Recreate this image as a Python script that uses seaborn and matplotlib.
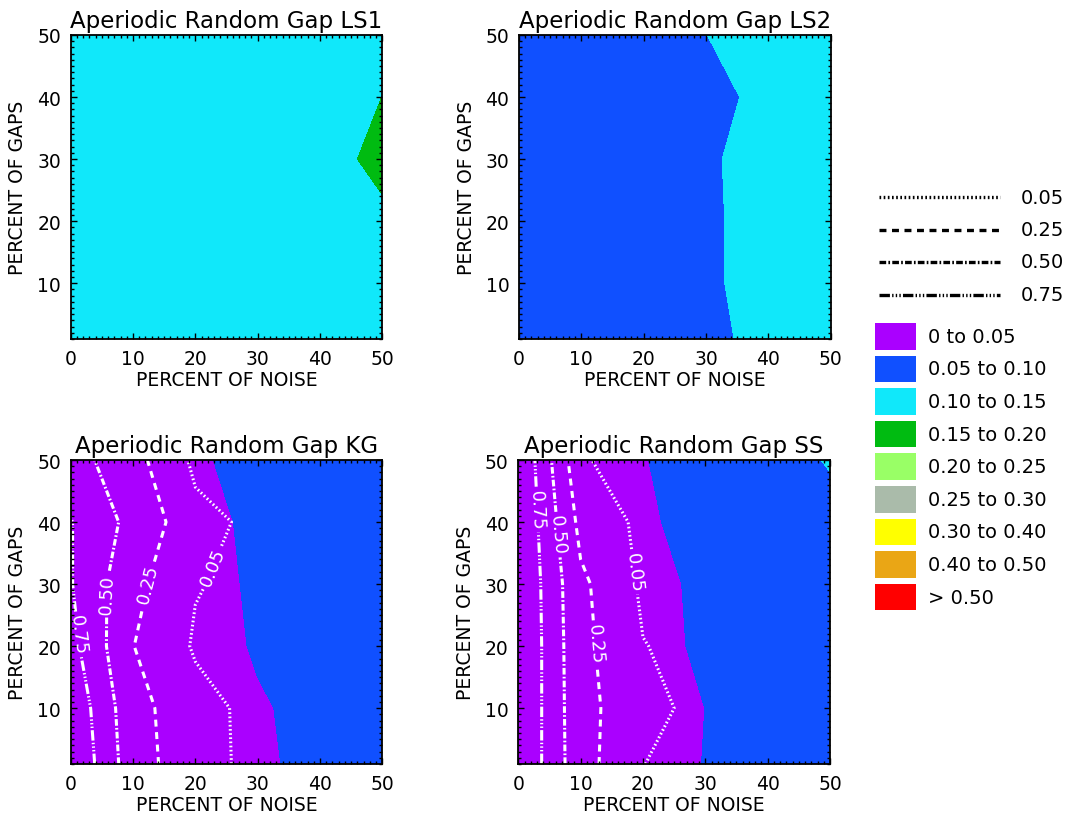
import numpy as np
import pandas as pd
import matplotlib
matplotlib.use("Agg")
import matplotlib.pyplot as plt
import seaborn as sns
from matplotlib.ticker import MultipleLocator, FixedLocator
from matplotlib.patches import Rectangle

# ---------------- data ----------------
noise = [0, 10, 20, 30, 40, 50]          # percent of noise (x)
gaps = [1, 10, 20, 30, 40, 50]           # percent of gaps (y)

fill_levels = [0, 0.05, 0.10, 0.15, 0.20, 0.25, 0.30, 0.40, 0.50, 100]
fill_labels = ["0 to 0.05", "0.05 to 0.10", "0.10 to 0.15", "0.15 to 0.20",
               "0.20 to 0.25", "0.25 to 0.30", "0.30 to 0.40", "0.40 to 0.50",
               "> 0.50"]
fill_colors = ["#AA00FF", "#1050FF", "#10E8FA", "#00BB11", "#99FF66",
               "#AABBAA", "#FFFF00", "#EAA615", "#FF0000"]
line_levels = [0.05, 0.25, 0.50, 0.75]
line_labels = ["0.05", "0.25", "0.50", "0.75"]

titles = ["Aperiodic Random Gap LS1", "Aperiodic Random Gap LS2",
          "Aperiodic Random Gap KG", "Aperiodic Random Gap SS"]

# filled field, rows = gaps, columns = noise
ls1_fill = [[0.118, 0.120, 0.122, 0.125, 0.128, 0.132],
            [0.118, 0.120, 0.123, 0.126, 0.129, 0.135],
            [0.119, 0.121, 0.124, 0.127, 0.130, 0.140],
            [0.119, 0.121, 0.124, 0.127, 0.130, 0.1633],
            [0.120, 0.122, 0.125, 0.128, 0.130, 0.1502],
            [0.120, 0.122, 0.125, 0.128, 0.131, 0.140]]
ls2_fill = [[0.060, 0.068, 0.078, 0.091, 0.111, 0.125],
            [0.060, 0.068, 0.079, 0.094, 0.114, 0.126],
            [0.061, 0.069, 0.079, 0.094, 0.114, 0.127],
            [0.061, 0.070, 0.080, 0.093, 0.120, 0.128],
            [0.060, 0.068, 0.076, 0.085, 0.1128, 0.128],
            [0.062, 0.072, 0.085, 0.0995, 0.125, 0.130]]
kg_fill = [[0.005, 0.012, 0.025, 0.045, 0.0585, 0.065],
           [0.005, 0.013, 0.027, 0.046, 0.0614, 0.068],
           [0.006, 0.014, 0.0305, 0.054, 0.065, 0.070],
           [0.006, 0.015, 0.0346, 0.056, 0.066, 0.072],
           [0.007, 0.016, 0.0375, 0.058, 0.068, 0.074],
           [0.008, 0.018, 0.0439, 0.065, 0.072, 0.078]]
ss_fill = [[0.005, 0.012, 0.028, 0.0514, 0.062, 0.068],
           [0.005, 0.013, 0.030, 0.0502, 0.063, 0.070],
           [0.006, 0.015, 0.0367, 0.056, 0.065, 0.072],
           [0.006, 0.016, 0.0369, 0.058, 0.067, 0.074],
           [0.007, 0.017, 0.0449, 0.062, 0.070, 0.083],
           [0.008, 0.019, 0.049, 0.060, 0.0757, 0.104]]

# line-contour field (only KG and SS show lines)
kg_line = [[1.00, 0.351, 0.105, 0.010, 0.0, 0.0],
           [0.95, 0.325, 0.111, 0.0, 0.0, 0.0],
           [0.83, 0.2545, 0.0298, 0.0, 0.0, 0.0],
           [0.764, 0.309, 0.060, 0.0, 0.0, 0.0],
           [0.76, 0.422, 0.0975, 0.0156, 0.0, 0.0],
           [0.612, 0.321, 0.013, 0.0, 0.0, 0.0]]
ss_line = [[1.00, 0.333, 0.052, 0.0, 0.0, 0.0],
           [1.007, 0.322, 0.100, 0.0, 0.0, 0.0],
           [1.014, 0.310, 0.055, 0.0, 0.0, 0.0],
           [1.007, 0.293, 0.020, 0.0, 0.0, 0.0],
           [1.01, 0.184, 0.008, 0.0, 0.0, 0.0],
           [1.00, 0.060, 0.005, 0.0, 0.0, 0.0]]

kg_label_pos = [(2.3, 22), (5.8, 28.5), (12.6, 30), (21.5, 33.3)]
ss_label_pos = [(3.1, 42), (6.7, 38), (12.9, 20.5), (18.7, 32)]

# ---------------- style ----------------
sns.set_theme(style="ticks")
plt.rcParams["font.family"] = ["DejaVu Sans"]
plt.rcParams["lines.scale_dashes"] = False
plt.rcParams["axes.edgecolor"] = "black"
plt.rcParams["axes.linewidth"] = 1.3
plt.rcParams["axes.axisbelow"] = False
plt.rcParams["xtick.color"] = "black"
plt.rcParams["ytick.color"] = "black"
plt.rcParams["xtick.labelcolor"] = "black"
plt.rcParams["ytick.labelcolor"] = "black"
plt.rcParams["text.color"] = "black"
plt.rcParams["axes.labelcolor"] = "black"
plt.rcParams["axes.titlecolor"] = "black"
palette = sns.color_palette(fill_colors)

line_styles = [(0, (1.2, 1.8)),
               (0, (5.0, 4.0)),
               (0, (4.8, 1.6, 1.2, 1.6)),
               (0, (7.5, 1.6, 1.0, 1.6, 1.0, 1.6, 1.0, 1.6))]

fig = plt.figure(figsize=(10.81, 8.2), dpi=100)

W, H = 1081.0, 820.0
boxes = [(70.7, 36, 382.3, 340), (519, 36, 830.7, 340),
         (70.7, 461, 382.3, 765), (518.3, 461, 830, 765)]
fills = [ls1_fill, ls2_fill, kg_fill, ss_fill]
lines = [None, None, kg_line, ss_line]
label_pos = [None, None, kg_label_pos, ss_label_pos]

X, Y = np.meshgrid(noise, gaps)
for i in range(4):
    l, t, r, b = boxes[i]
    ax = fig.add_axes([l / W, 1 - b / H, (r - l) / W, (b - t) / H])
    ax.set_axisbelow(False)
    ax.contourf(X, Y, np.array(fills[i]), levels=fill_levels, colors=palette,
                zorder=0.5)
    if lines[i] is not None:
        cs = ax.contour(X, Y, np.array(lines[i]), levels=line_levels,
                        colors="white", linewidths=2.2, linestyles=line_styles,
                        zorder=1)
        ax.clabel(cs, fmt="%.2f", inline=True, fontsize=13, colors="white",
                  manual=label_pos[i], inline_spacing=3)
    ax.set_xlim(0, 50)
    ax.set_ylim(1, 50)
    ax.xaxis.set_major_locator(FixedLocator([0, 10, 20, 30, 40, 50]))
    ax.yaxis.set_major_locator(FixedLocator([10, 20, 30, 40, 50]))
    ax.xaxis.set_minor_locator(MultipleLocator(1))
    ax.yaxis.set_minor_locator(MultipleLocator(1))
    ax.tick_params(which="both", direction="in", top=True, right=True,
                   labelsize=13.5, width=1.0, color="black")
    ax.tick_params(which="major", length=4.5, pad=7)
    ax.tick_params(which="minor", length=2.5)
    ax.set_title(titles[i], fontsize=16.5, pad=6)
    ax.set_xlabel("PERCENT OF NOISE", fontsize=13.5, labelpad=2)
    ax.set_ylabel("PERCENT OF GAPS", fontsize=13.5, labelpad=7)
    for s in ax.spines.values():
        s.set_visible(True)
        s.set_zorder(5)

# ---------------- legend ----------------
lg = fig.add_axes([0, 0, 1, 1], facecolor="none")
lg.set_xlim(0, W)
lg.set_ylim(H, 0)
lg.axis("off")
line_rows = [198, 231, 263, 296]
for k in range(4):
    lg.plot([879, 1000], [line_rows[k], line_rows[k]], color="black",
            lw=2.4, linestyle=line_styles[k], solid_capstyle="butt",
            dash_capstyle="butt")
    lg.text(1021, line_rows[k], line_labels[k], fontsize=14, va="center",
            ha="left")
for k in range(len(fill_labels)):
    yc = 337.3 + 32.6 * k
    lg.add_patch(Rectangle((875, yc - 13.3), 41, 26.6, facecolor=palette[k],
                           edgecolor="none"))
    lg.text(928, yc, fill_labels[k], fontsize=14, va="center", ha="left")

fig.savefig("out.png", dpi=100, facecolor="white")
